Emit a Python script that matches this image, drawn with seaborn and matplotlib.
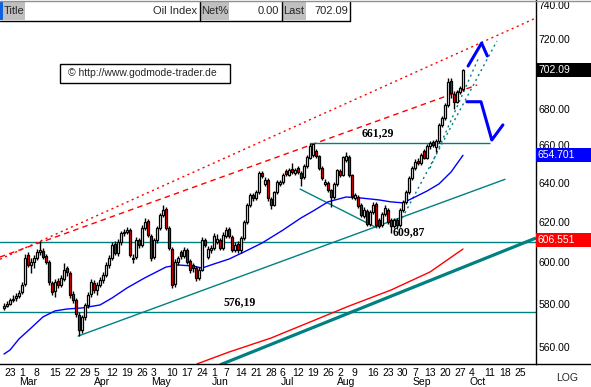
import matplotlib
matplotlib.use("Agg")
import matplotlib.pyplot as plt
from matplotlib.patches import Rectangle
from matplotlib.lines import Line2D
from matplotlib.ticker import NullLocator
import numpy as np
import pandas as pd
import seaborn as sns

sns.set_theme(style="white")
plt.rcParams["font.family"] = ["Liberation Sans", "DejaVu Sans"]

# ---------------- data (daily candles, 23 Feb - 30 Sep) ----------------
opens = [578.0, 579.2, 580.2, 582.0, 582.6, 583.6, 585.5, 589.5, 603.5, 598.5,
         600.0, 602.3, 605.0, 605.8, 603.0, 600.0, 590.0, 586.0, 591.0, 589.0,
         592.0, 597.0, 595.0, 584.5, 582.0, 575.0, 568.0, 574.0, 579.5, 584.5,
         590.0, 586.5, 589.0, 591.5, 594.0, 598.5, 602.0, 609.0, 604.5, 610.0,
         614.3, 615.0, 616.0, 601.5, 602.5, 611.0, 608.5, 617.0, 620.5, 613.0,
         602.5, 611.0, 617.0, 623.5, 626.5, 617.0, 606.5, 589.5, 600.0, 605.0,
         603.0, 606.0, 600.5, 598.5, 597.0, 592.5, 596.5, 611.0, 602.5, 606.0,
         607.0, 610.0, 611.0, 607.0, 613.0, 616.5, 612.5, 606.0, 609.0, 606.0,
         612.0, 620.0, 628.5, 634.0, 632.5, 635.5, 645.5, 639.5, 641.5, 632.0,
         628.5, 635.5, 639.5, 640.5, 646.5, 644.5, 647.5, 645.5, 648.0, 645.5,
         643.0, 649.0, 653.5, 655.0, 657.0, 654.5, 648.0, 639.5, 640.0, 636.5,
         633.0, 639.5, 646.5, 644.5, 652.0, 654.0, 644.0, 632.5, 633.0, 628.5,
         623.0, 625.5, 619.0, 625.0, 629.0, 621.0, 618.5, 624.0, 626.0, 621.0,
         618.0, 621.0, 618.5, 626.0, 630.0, 635.5, 642.5, 648.0, 651.5, 650.5,
         657.0, 653.5, 659.5, 662.0, 659.0, 662.5, 671.0, 675.0, 682.0, 695.5,
         688.5, 684.0, 689.5, 691.0]
highs = [580.5, 581.5, 583.0, 584.0, 585.0, 586.5, 590.5, 604.0, 605.0, 602.0,
         603.5, 606.5, 610.5, 607.0, 604.0, 601.0, 591.0, 592.0, 592.5, 594.0,
         599.5, 598.0, 596.0, 586.0, 583.0, 576.0, 575.0, 580.5, 585.5, 592.0,
         591.5, 590.5, 593.0, 595.5, 600.0, 603.5, 610.0, 610.5, 611.5, 615.5,
         616.5, 617.5, 617.0, 604.0, 612.5, 612.0, 618.5, 622.0, 621.5, 614.0,
         612.0, 618.0, 624.5, 628.5, 627.5, 618.0, 607.5, 601.5, 603.0, 606.0,
         607.5, 607.0, 601.5, 599.5, 598.0, 597.5, 612.5, 612.0, 608.0, 608.5,
         614.5, 614.0, 612.0, 615.0, 617.5, 617.5, 613.5, 610.0, 610.5, 613.0,
         621.0, 629.5, 635.0, 635.0, 636.5, 646.5, 646.5, 643.0, 642.5, 633.0,
         636.0, 641.5, 641.5, 645.5, 647.5, 648.0, 650.5, 648.0, 649.0, 646.5,
         650.0, 655.0, 661.3, 661.0, 658.0, 655.0, 649.0, 642.0, 641.0, 637.0,
         640.5, 647.5, 647.5, 654.5, 656.5, 655.0, 645.0, 635.0, 634.0, 629.5,
         627.5, 626.5, 626.0, 630.0, 630.0, 622.0, 625.0, 628.5, 627.0, 622.0,
         622.0, 622.0, 627.0, 631.5, 636.5, 643.5, 649.0, 652.5, 653.0, 656.0,
         658.0, 660.5, 662.5, 663.0, 663.5, 672.0, 676.0, 683.0, 697.0, 697.0,
         690.0, 690.5, 693.0, 702.5]
lows = [577.0, 578.5, 579.5, 580.8, 581.5, 582.8, 584.5, 588.5, 597.5, 595.0,
        597.0, 601.0, 603.5, 601.5, 599.0, 589.0, 584.0, 583.5, 587.5, 588.0,
        591.0, 593.5, 583.0, 580.5, 574.0, 565.0, 566.5, 572.5, 578.0, 583.5,
        585.0, 584.0, 588.0, 590.0, 593.0, 597.0, 601.0, 603.5, 603.0, 608.5,
        613.0, 614.0, 602.5, 599.5, 601.5, 607.0, 607.5, 616.0, 612.5, 600.5,
        601.5, 609.5, 616.0, 622.5, 616.0, 606.0, 587.5, 588.0, 598.5, 601.5,
        602.0, 599.0, 595.0, 595.5, 591.0, 591.5, 596.0, 607.5, 601.5, 604.5,
        606.0, 609.0, 606.0, 606.0, 612.0, 612.0, 605.0, 605.0, 604.5, 604.5,
        611.0, 619.0, 627.5, 631.0, 631.5, 634.5, 642.5, 638.5, 631.0, 626.5,
        628.0, 634.5, 638.5, 639.5, 643.5, 643.5, 645.0, 644.0, 645.0, 638.5,
        642.0, 648.0, 652.5, 654.0, 653.0, 647.0, 641.5, 638.5, 635.5, 627.7,
        632.0, 638.5, 643.0, 643.5, 651.0, 643.0, 632.0, 631.5, 627.0, 622.5,
        622.0, 618.0, 618.0, 624.0, 617.5, 617.0, 617.5, 623.0, 619.0, 614.5,
        617.0, 617.0, 617.5, 625.0, 629.0, 634.5, 641.5, 647.0, 649.5, 649.5,
        652.5, 652.5, 658.0, 659.0, 656.5, 661.5, 670.0, 674.0, 681.0, 686.0,
        680.0, 683.0, 688.0, 690.0]
closes = [579.0, 580.0, 581.9, 582.4, 583.8, 585.2, 589.1, 602.1, 598.7, 600.2,
          602.1, 605.1, 606.1, 602.6, 600.2, 590.5, 585.7, 590.5, 589.1, 592.5,
          596.3, 595.3, 584.3, 581.9, 575.3, 567.8, 573.9, 579.5, 584.3, 590.5,
          586.6, 589.1, 591.5, 593.9, 598.7, 602.1, 608.5, 604.6, 610.0, 614.5,
          615.0, 616.0, 603.6, 602.1, 611.0, 608.5, 617.1, 620.1, 613.5, 602.1,
          611.0, 617.1, 623.6, 626.0, 617.1, 607.0, 589.1, 600.2, 602.1, 603.0,
          606.1, 600.2, 596.3, 597.2, 592.5, 596.3, 611.0, 608.5, 606.5, 607.0,
          613.0, 611.5, 607.0, 613.5, 616.0, 613.0, 606.1, 608.5, 606.1, 612.0,
          620.1, 628.7, 633.8, 632.3, 635.4, 645.3, 643.7, 641.8, 632.3, 628.7,
          635.4, 640.6, 640.6, 644.3, 644.8, 646.9, 645.8, 646.9, 645.8, 642.7,
          649.0, 653.8, 659.7, 660.5, 654.3, 647.9, 642.7, 640.6, 636.4, 632.8,
          639.6, 646.9, 644.3, 653.8, 654.5, 644.3, 633.3, 633.8, 628.2, 623.6,
          626.1, 619.1, 625.1, 628.7, 618.6, 618.1, 624.1, 627.2, 620.1, 618.1,
          621.1, 618.6, 626.1, 630.3, 635.4, 642.7, 647.9, 651.1, 650.6, 654.8,
          653.5, 659.7, 661.3, 660.3, 662.4, 671.1, 674.9, 682.1, 695.0, 689.0,
          683.5, 689.4, 691.6, 702.09]

# moving averages (day index, value)
ma_blue_x = [0, 2, 5, 9, 13, 17, 21, 26, 32, 36, 41, 47, 54, 58, 63, 66, 70, 75,
             80, 86, 93, 99, 103, 108, 114, 119, 125, 129, 133, 137, 141, 145, 149, 153]
ma_blue_y = [556.8, 558.6, 563.7, 568.7, 573.9, 576.7, 577.6, 578.1, 579.5, 582.8,
             587.6, 592.5, 597.7, 598.7, 598.2, 597.2, 599.2, 601.6, 605.1, 609.5,
             616.0, 622.1, 625.6, 630.3, 632.8, 632.3, 631.3, 630.3, 629.8, 632.8,
             635.9, 639.6, 645.8, 654.701]
ma_red_x = [64.3, 75, 89, 102, 115, 129, 142, 153]
ma_red_y = [552.3, 557.7, 564.1, 571.5, 579.0, 586.6, 595.3, 606.551]

# week ticks (day index of first trading day of each week)
week_pos = [0, 5, 10, 15, 20, 25, 30, 34, 39, 44, 49, 54, 59, 64, 69, 73, 77, 82,
            87, 92, 96, 101, 106, 111, 116, 121, 126, 131, 136, 140, 145, 150,
            155, 160, 165, 170]
week_labels = ["23", "1", "8", "15", "22", "29", "5", "12", "19", "26", "3", "10",
               "17", "24", "1", "7", "14", "21", "28", "6", "12", "19", "26", "2",
               "9", "16", "23", "30", "7", "13", "20", "27", "4", "11", "18", "25"]
month_pos = [5, 30, 49, 69, 92, 111, 136, 155]
month_labels = ["Mar", "Apr", "May", "Jun", "Jul", "Aug", "Sep", "Oct"]

level_values = [661.29, 609.87, 576.19]
level_labels = ["661,29", "609,87", "576,19"]
level_label_x = [124.7, 135, 78.7]

# drawn trend lines (day index, value pairs)
red_dot_x = [-1.33, 177.3]
red_dot_y = [601.5, 732.2]
red_dash_x = [-1.33, 157.7]
red_dash_y = [602.6, 693.3]
channel_x = [24.7, 167.0]
channel_y = [565.0, 642.0]
thick_x = [72.0, 177.3]
thick_y = [551.9, 612.0]
tri_x = [98.7, 124.3]
tri_y = [636.9, 617.1]
dot1_x = [131.0, 164.3]
dot1_y = [617.1, 718.6]
dot2_x = [142.0, 158.0]
dot2_y = [647.9, 708.0]
proj_up_x = [154.7, 159.2, 161.1]
proj_up_y = [704.1, 717.4, 709.9]
proj_dn_x = [154.3, 159.0, 162.6, 166.3]
proj_dn_y = [683.9, 683.9, 662.9, 671.1]

# right scale labels (700.00 lies under the "last" box in the reference)
right_ticks = [560, 580, 600, 620, 640, 660, 680, 720, 740]

# ---------------- figure ----------------
W, H = 591, 387
fig = plt.figure(figsize=(W / 100, H / 100), dpi=100)
fig.patch.set_facecolor("white")
ax = fig.add_axes([0, 23 / H, 536 / W, 364 / H])
ax.set_facecolor("white")
ax.set_yscale("log")
ax.set_ylim(740 * np.exp(-359 / 1227), 740 * np.exp(5 / 1227))
ax.set_xlim(-4 / 3, 532 / 3)

TEAL = "#008080"

# horizontal levels
ax.axhline(level_values[1], color=TEAL, lw=1.0, zorder=1)
ax.axhline(level_values[2], color=TEAL, lw=1.0, zorder=1)
ax.hlines(level_values[0], 102, 162, color=TEAL, lw=1.0, zorder=1)

# trend lines
ax.plot(red_dot_x, red_dot_y, color="red", lw=1.0, dashes=(1.5, 2.5), zorder=1)
ax.plot(red_dash_x, red_dash_y, color="red", lw=1.0, dashes=(4, 3), zorder=1)
ax.plot(channel_x, channel_y, color=TEAL, lw=1.0, zorder=1)
ax.plot(thick_x, thick_y, color=TEAL, lw=2.3, zorder=1, solid_capstyle="butt")
ax.plot(tri_x, tri_y, color=TEAL, lw=1.0, zorder=1)
ax.plot(dot1_x, dot1_y, color=TEAL, lw=1.0, dashes=(1.5, 2.5), zorder=1)
ax.plot(dot2_x, dot2_y, color=TEAL, lw=1.0, dashes=(1.5, 2.5), zorder=1)

# moving averages
sns.lineplot(x=ma_blue_x, y=ma_blue_y, color="#0000ff", lw=1.0, ax=ax, zorder=2)
sns.lineplot(x=ma_red_x, y=ma_red_y, color="#ff0000", lw=1.0, ax=ax, zorder=2)

# candles
df = pd.DataFrame({"o": opens, "h": highs, "l": lows, "c": closes})
df["x"] = np.arange(len(df))
up = df["c"] >= df["o"]
ax.vlines(df["x"], df["l"], df["h"], color="black", lw=1.0, zorder=3)
ax.bar(df["x"], (df["c"] - df["o"]).abs().clip(lower=0.3),
       bottom=df[["o", "c"]].min(axis=1), width=0.72,
       color=np.where(up, "white", "#ff0000"), edgecolor="black",
       linewidth=0.9, zorder=4)

# projections
ax.plot(proj_up_x, proj_up_y, color="#0000ff", lw=2.2, zorder=5)
ax.plot(proj_dn_x, proj_dn_y, color="#0000ff", lw=2.2, zorder=5)

# level annotations
for v, lab, lx in zip(level_values, level_labels, level_label_x):
    ax.annotate(lab, xy=(lx, v), xytext=(0, 3), textcoords="offset points",
                ha="center", va="bottom", fontsize=8.5, fontweight="bold",
                family=["Liberation Serif", "DejaVu Serif"], color="black", zorder=6)

# axes styling
for s in ["left", "top"]:
    ax.spines[s].set_visible(False)
for s in ["right", "bottom"]:
    ax.spines[s].set_color("black")
    ax.spines[s].set_linewidth(1.0)
ax.yaxis.tick_right()
ax.yaxis.set_minor_locator(NullLocator())
ax.set_yticks(right_ticks)
ax.set_yticklabels([f"{t:.2f}" for t in right_ticks])
ax.tick_params(axis="y", length=0, pad=1.5, labelsize=7.5, colors="black")
ax.set_xticks(week_pos)
ax.set_xticklabels(week_labels, ha="left")
ax.tick_params(axis="x", length=0, pad=3, labelsize=7.5, colors="black")
for mp, ml in zip(month_pos, month_labels):
    ax.annotate(ml, xy=(mp, 0), xycoords=("data", "axes fraction"),
                xytext=(0.3, -9.6), textcoords="offset points",
                ha="left", va="top", fontsize=7.5, color="black")
ax.grid(False)

fig.canvas.draw()

def fx(x):
    return x / W

def fy(y):
    return 1 - y / H

# last-value boxes on the right scale
for val, txt, col, shift in [(702.09, "702.09", "black", 0),
                             (654.701, "654.701", "#0000ff", 0),
                             (606.551, "606.551", "#ff0000", 9)]:
    yd = ax.transData.transform((0, val))[1] + shift
    fig.add_artist(Rectangle((fx(536), (yd - 7) / H), 55 / W, 14 / H,
                             transform=fig.transFigure, fc=col, ec="none", zorder=5))
    fig.text(fx(538), yd / H, txt, color="white", fontsize=7.5, ha="left",
             va="center", zorder=6)

# bottom line across right scale & LOG text
fig.add_artist(Line2D([fx(536), 1], [fy(364), fy(364)], color="black", lw=1.0,
                      transform=fig.transFigure))
fig.text(fx(578), fy(378), "LOG", fontsize=7.5, ha="right", va="center")

# header bar
hdr = [(0, 3, "#1060e0"), (3, 25, "#c0c0c0"), (25, 200, "white"),
       (200, 229, "#c0c0c0"), (229, 282, "white"), (282, 306, "#c0c0c0"),
       (306, 350, "white")]
for x0, x1, c in hdr:
    fig.add_artist(Rectangle((fx(x0), fy(20)), (x1 - x0) / W, 19 / H,
                             transform=fig.transFigure, fc=c, ec="none", zorder=7))
for xv in [199.5, 281.5, 349.5]:
    fig.add_artist(Line2D([fx(xv), fx(xv)], [fy(1), fy(20.5)], color="black",
                          lw=1.0, transform=fig.transFigure, zorder=8))
fig.add_artist(Line2D([0, fx(350)], [fy(20.5), fy(20.5)], color="black", lw=1.0,
                      transform=fig.transFigure, zorder=8))
fig.add_artist(Line2D([0, 1], [fy(0.5), fy(0.5)], color="#909090", lw=1.0,
                      transform=fig.transFigure, zorder=8))
hy = fy(11)
fig.text(fx(4), hy, "Title", fontsize=8, ha="left", va="center", zorder=9)
fig.text(fx(197), hy, "Oil Index", fontsize=8, ha="right", va="center", zorder=9)
fig.text(fx(201), hy, "Net%", fontsize=8, ha="left", va="center", zorder=9)
fig.text(fx(279), hy, "0.00", fontsize=8, ha="right", va="center", zorder=9)
fig.text(fx(283), hy, "Last", fontsize=8, ha="left", va="center", zorder=9)
fig.text(fx(348), hy, "702.09", fontsize=8, ha="right", va="center", zorder=9)

# copyright box
fig.add_artist(Rectangle((fx(60), fy(83)), 170 / W, 19 / H, transform=fig.transFigure,
                         fc="white", ec="black", lw=1.0, zorder=7))
fig.text(fx(68), fy(73.5), "\u00a9 http://www.godmode-trader.de", fontsize=7.5,
         ha="left", va="center", zorder=8)

fig.savefig("out.png", dpi=100)
